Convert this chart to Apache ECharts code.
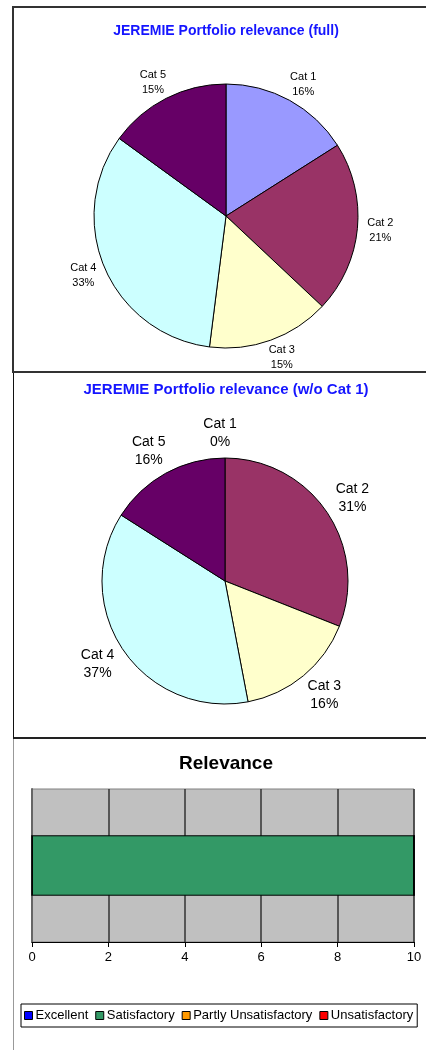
<!DOCTYPE html>
<html>
<head>
<meta charset="utf-8">
<script src="https://cdn.jsdelivr.net/npm/echarts@6/dist/echarts.min.js"></script>
<style>
  html, body { margin: 0; padding: 0; background: #fff; overflow: hidden; }
  body { width: 426px; height: 1050px; position: relative; }
  .panel { position: absolute; box-sizing: border-box; }
  .chart { position: absolute; left: 0; width: 452px; }
</style>
</head>
<body>
<div class="panel" style="left:12px;top:6px;width:430px;height:367px;border-left:2px solid #333;border-top:2px solid #333;border-bottom:2px solid #333;"></div>
<div class="panel" style="left:13px;top:373px;width:430px;height:366px;border-left:1px solid #111;border-bottom:2px solid #222;"></div>
<div class="panel" style="left:13px;top:739px;width:430px;height:320px;border-left:1px solid #999;"></div>
<div class="chart" id="pie1" style="top:0;height:372px;"></div>
<div class="chart" id="pie2" style="top:372px;height:366px;"></div>
<div class="chart" id="bar" style="top:738px;height:312px;"></div>
<script>
var font = "Liberation Sans, Arial, sans-serif";

// 数据
var cats = ["Cat 1", "Cat 2", "Cat 3", "Cat 4", "Cat 5"];
var catColors = ["#9999FF", "#993366", "#FFFFCC", "#CCFFFF", "#660066"];
var fullValues = [16, 21, 15, 33, 15];
var withoutCat1Values = [0, 31, 16, 37, 16];

var ratings = ["Excellent", "Satisfactory", "Partly Unsatisfactory", "Unsatisfactory"];
var ratingColors = ["#0000FF", "#339966", "#FF9900", "#FF0000"];
var ratingValues = [0, 10, 0, 0];
var barCategory = ["Relevance"];
var xTicks = [0, 2, 4, 6, 8, 10];

function pieOption(title, values, center, radius, fontSize, titleSize, lineLen, titleTop) {
  return {
    animation: false,
    title: {
      text: title,
      left: "center",
      top: titleTop,
      textStyle: { color: "#1515ff", fontSize: titleSize, fontWeight: "bold", fontFamily: font }
    },
    series: [{
      type: "pie",
      center: center,
      radius: radius,
      startAngle: 90,
      clockwise: true,
      avoidLabelOverlap: false,
      data: cats.map(function (c, i) {
        return { name: c, value: values[i], itemStyle: { color: catColors[i] } };
      }),
      itemStyle: { borderColor: "#000", borderWidth: 1 },
      label: {
        show: true,
        position: "outside",
        color: "#000",
        fontSize: fontSize,
        fontFamily: font,
        lineHeight: fontSize + 4,
        formatter: function (p) { return p.name + "\n" + Math.round(p.percent) + "%"; }
      },
      labelLine: { show: false, length: lineLen, length2: 0 },
      labelLayout: { align: "center", verticalAlign: "middle" }
    }]
  };
}

var pie1 = echarts.init(document.getElementById("pie1"));
pie1.setOption(pieOption("JEREMIE Portfolio relevance (full)", fullValues, [226, 216], 132, 11, 14, 18, 19));

var pie2 = echarts.init(document.getElementById("pie2"));
pie2.setOption(pieOption("JEREMIE Portfolio relevance (w/o Cat 1)", withoutCat1Values, [225, 209], 123, 14, 15, 25, 5));

var bar = echarts.init(document.getElementById("bar"));
bar.setOption({
  animation: false,
  title: {
    text: "Relevance",
    left: "center",
    top: 11,
    textStyle: { color: "#000", fontSize: 19, fontWeight: "bold", fontFamily: font }
  },
  legend: {
    data: ratings,
    left: 21,
    top: 266,
    orient: "horizontal",
    itemWidth: 8,
    itemHeight: 8,
    itemGap: 7,
    icon: "rect",
    padding: [5, 4, 5, 3],
    borderColor: "#000",
    borderWidth: 1,
    textStyle: { color: "#000", fontSize: 13, fontFamily: font, padding: [0, 0, 0, -2] },
    itemStyle: { borderColor: "#000", borderWidth: 1 }
  },
  grid: {
    left: 32,
    right: 38,
    top: 51,
    bottom: 108,
    show: true,
    backgroundColor: "#C0C0C0",
    borderColor: "#808080",
    borderWidth: 1
  },
  xAxis: {
    type: "value",
    min: xTicks[0],
    max: xTicks[xTicks.length - 1],
    interval: xTicks[1] - xTicks[0],
    axisLine: { show: true, lineStyle: { color: "#000", width: 1 } },
    axisTick: { show: true, inside: false, length: 5, lineStyle: { color: "#000" } },
    axisLabel: { color: "#000", fontSize: 13, fontFamily: font, margin: 9 },
    splitLine: { show: true, lineStyle: { color: "#333", width: 1.5 } }
  },
  yAxis: {
    type: "category",
    data: barCategory,
    axisLine: { show: true, lineStyle: { color: "#666", width: 2 } },
    axisTick: { show: false },
    axisLabel: { show: false }
  },
  series: ratings.map(function (r, i) {
    return {
      name: r,
      type: "bar",
      stack: "total",
      barWidth: "39.5%",
      data: [ratingValues[i]],
      itemStyle: { color: ratingColors[i], borderColor: "#000", borderWidth: 1 }
    };
  })
});
</script>
</body>
</html>
